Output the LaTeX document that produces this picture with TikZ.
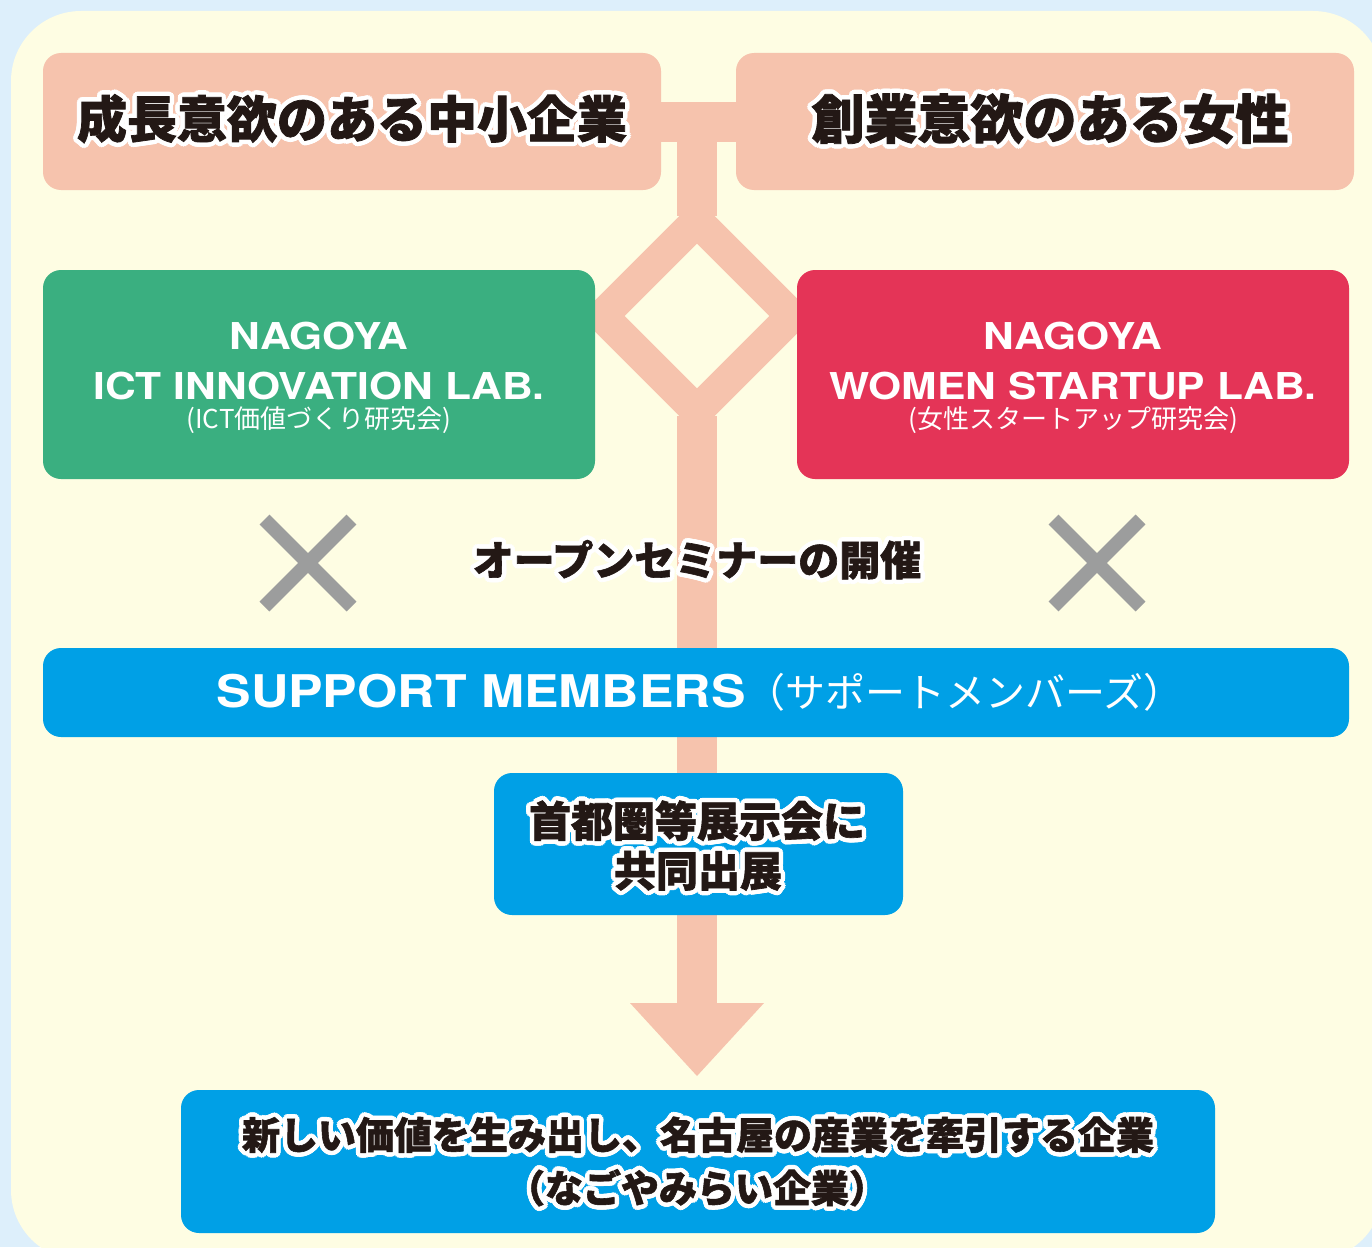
\documentclass[tikz,border=0pt]{standalone}
\usepackage{fontspec}
\usepackage{contour}
\usetikzlibrary{calc,shapes.misc}
\newfontfamily\jp{Noto Sans CJK JP}[BoldFeatures={FakeBold=1.5}]
\newfontfamily\en{TeX Gyre Heros}[FakeStretch=1.15]
\definecolor{bgblue}{HTML}{DDEFFB}
\definecolor{cream}{HTML}{FEFDE3}
\definecolor{pinkc}{HTML}{F6C3AD}
\definecolor{greenc}{HTML}{3AAF80}
\definecolor{redc}{HTML}{E43457}
\definecolor{bluec}{HTML}{00A0E6}
\definecolor{grayc}{HTML}{9C9D9D}
\definecolor{inkc}{HTML}{231815}
\contourlength{4.5pt}
\contournumber{16}
\pgfdeclarelayer{back}
\pgfdeclarelayer{mid}
\pgfsetlayers{back,mid,main}
\tikzset{
  box/.style={rounded corners=18pt, inner sep=0pt, outer sep=0pt},
  pinkbox/.style={box, fill=pinkc, minimum width=618pt, minimum height=137pt},
  labbox/.style={box, minimum width=552pt, minimum height=209pt},
  bluebox/.style={box, fill=bluec},
  bar/.style={draw=pinkc, line width=40pt},
  xmark/.style={cross out, draw=grayc, line width=14pt, minimum size=87pt, inner sep=0pt, outer sep=0pt},
  txt/.style={inner sep=0pt, outer sep=0pt, text=inkc},
  wtxt/.style={inner sep=0pt, outer sep=0pt, text=white, anchor=base},
}
\newcommand{\titlejp}[2]{{\jp\bfseries\fontsize{#1}{#1}\selectfont\contour{white}{#2}}}
\newcommand{\labname}{\en\bfseries\fontsize{37}{37}\selectfont}
\newcommand{\labsub}{\jp\fontsize{26}{26}\selectfont}
\begin{document}
\begin{tikzpicture}[x=1pt,y=-1pt]
\useasboundingbox (0,0) rectangle (1372,1247);
\begin{pgfonlayer}{back}
  \fill[bgblue] (0,0) rectangle (1372,1247);
  \fill[cream, rounded corners=70pt] (11,11) rectangle (1383,1260);
\end{pgfonlayer}

% boxes
\node[pinkbox] (p1) at (352,121.5) {};
\node[pinkbox] (p2) at (1045,121.5) {};
\node[labbox, fill=greenc] (g) at (319,374.5) {};
\node[labbox, fill=redc] (r) at (1073,374.5) {};
\node[bluebox, minimum width=1306pt, minimum height=89pt] (sup) at (696,692.5) {};
\node[bluebox, minimum width=409pt, minimum height=142pt] (mid) at (698.5,844) {};
\node[bluebox, minimum width=1034pt, minimum height=143pt] (bot) at (698,1161.5) {};

% crosses
\node[xmark] (x1) at (308,563) {};
\node[xmark] (x2) at (1097,563) {};

% connectors
\coordinate (top) at (697,122);
\coordinate (dc) at (697,316);
\coordinate (head) at (697,1004);
\coordinate (tip) at (697,1076);
\begin{pgfonlayer}{mid}
  \draw[bar] (p1.east) -- (p2.west);
  \draw[bar] (top) -- ($(dc)+(0,-100)$);
  \draw[bar] ($(dc)+(0,100)$) -- (head);
  \draw[bar, line width=32pt, line join=miter]
    ($(dc)+(0,-95)$) -- ($(dc)+(95,0)$) -- ($(dc)+(0,95)$) -- ($(dc)+(-95,0)$) -- cycle;
  \fill[pinkc] ($(tip)+(-67,-73)$) -- ($(tip)+(67,-73)$) -- (tip) -- cycle;
\end{pgfonlayer}

% titles
\node[txt] (t1) at (352,121) {\titlejp{50}{成長意欲のある中小企業}};
\node[txt] (t2) at (1050,121) {\titlejp{53}{創業意欲のある女性}};

% lab texts
\node[wtxt] (g1) at (319,349) {\labname NAGOYA};
\node[wtxt] (g2) at (319,399) {\labname ICT INNOVATION LAB.};
\node[txt, text=white] (g3) at (319,420) {\labsub (ICT価値づくり研究会)};
\node[wtxt] (r1) at (1073,349) {\labname NAGOYA};
\node[wtxt] (r2) at (1073,399) {\labname WOMEN STARTUP LAB.};
\node[txt, text=white] (r3) at (1073,420) {\labsub (女性スタートアップ研究会)};

% seminar
\node[txt] (sem) at (697,562) {\titlejp{41}{オープンセミナーの開催}};

% support members
\node[wtxt] (st) at (700,707) {{\en\bfseries\fontsize{45}{45}\selectfont SUPPORT MEMBERS}{\jp\fontsize{40}{40}\selectfont （サポートメンバーズ）}};

% middle
\node[txt] (m1) at (697,823) {\titlejp{42}{首都圏等展示会に}};
\node[txt] (m2) at (698,873) {\titlejp{42}{共同出展}};

% bottom
\node[txt] (b1) at (698,1137) {\titlejp{38}{新しい価値を生み出し、名古屋の産業を牽引する企業}};
\node[txt] (b2) at (697,1190) {\titlejp{38}{（なごやみらい企業）}};
\end{tikzpicture}
\end{document}
